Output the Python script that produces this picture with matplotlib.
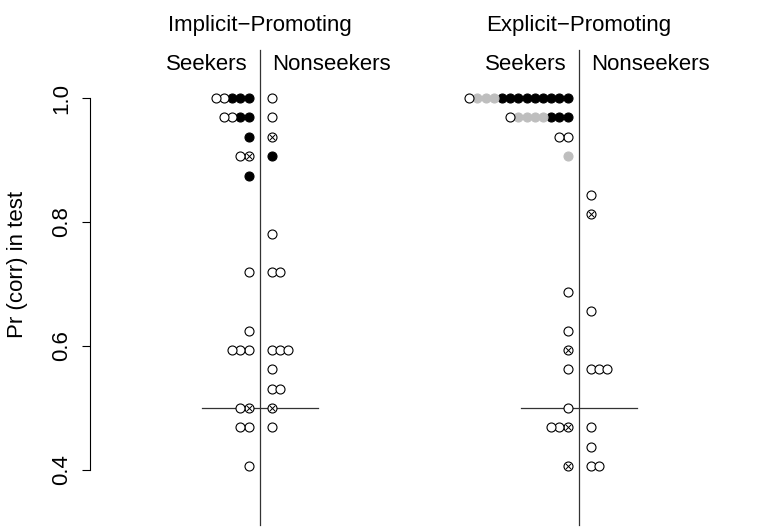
import matplotlib.pyplot as plt

plt.rcParams['font.family'] = ['Liberation Sans', 'DejaVu Sans']

n_items = 32

# test scores (out of 32) per row, and the participants on that row
# f = filled, g = grey, x = crossed, o = open
impl_seek_scores = [32, 31, 30, 29, 28, 23, 20, 19, 16, 15, 13]
impl_seek_marks = ["oofff", "ooff", "f", "ox", "f", "o", "o", "ooo", "ox", "oo", "o"]
impl_non_scores = [32, 31, 30, 29, 25, 23, 19, 18, 17, 16, 15]
impl_non_marks = ["o", "o", "x", "f", "o", "oo", "ooo", "o", "oo", "x", "o"]

expl_seek_scores = [32, 31, 30, 29, 22, 20, 19, 18, 16, 15, 13]
expl_seek_marks = ["oggg" + "f" * 9, "ogggg" + "fff", "oo", "g", "o", "o", "x", "o", "o", "oox", "x"]
expl_non_scores = [27, 26, 21, 18, 15, 14, 13]
expl_non_marks = ["o", "x", "o", "ooo", "o", "o", "oo"]

panels = [
    ("Implicit\u2212Promoting", 260, impl_seek_scores, impl_seek_marks, impl_non_scores, impl_non_marks),
    ("Explicit\u2212Promoting", 579, expl_seek_scores, expl_seek_marks, expl_non_scores, expl_non_marks),
]

rank = {"f": 0, "g": 1, "x": 2, "o": 3}
step = 8.2
gap = 11.5
grey = "#bebebe"

W, H = 759, 529
fig = plt.figure(figsize=(W / 100, H / 100), dpi=100)
ax = fig.add_axes([0, (H - 470) / H, 1, (470 - 98) / H])
ax.set_xlim(0, W)
ax.set_ylim(0.4, 1.0)
for s in ["top", "right", "bottom"]:
    ax.spines[s].set_visible(False)
ax.spines["left"].set_position(("data", 90))
ax.spines["left"].set_bounds(0.4, 1.0)
ax.spines["left"].set_linewidth(0.8)
ax.set_xticks([])
ax.set_yticks([0.4, 0.6, 0.8, 1.0])
ax.set_yticklabels(["0.4", "0.6", "0.8", "1.0"], rotation=90, va="center", fontsize=16)
ax.tick_params(axis="y", length=6, width=0.8, pad=7)
ax.set_ylabel("Pr (corr) in test", fontsize=16)
ax.yaxis.set_label_coords(18 / W, 0.5, transform=fig.transFigure)
ax.yaxis.label.set_verticalalignment("center")


def draw_side(cx, scores, marks, side):
    for score, row in zip(scores, marks):
        y = score / n_items
        for i, m in enumerate(sorted(row, key=lambda c: rank[c])):
            x = cx + side * (gap + i * step)
            if m == "f":
                fc, ec = "black", "black"
            elif m == "g":
                fc, ec = grey, grey
            else:
                fc, ec = "white", "black"
            ax.scatter([x], [y], s=42, facecolors=fc, edgecolors=ec,
                       linewidths=0.8, zorder=3 + i * 0.01, clip_on=False)
            if m == "x":
                ax.scatter([x], [y], s=14, marker="x", color="black",
                           linewidths=0.7, zorder=4, clip_on=False)


for title, cx, s_scores, s_marks, n_scores, n_marks in panels:
    ax.text(cx, 1 + 73 / 620, title, ha="center", va="center", fontsize=16)
    ax.text(cx - 12, 1 + 34 / 620, "Seekers", ha="right", va="center", fontsize=16)
    ax.text(cx + 12, 1 + 34 / 620, "Nonseekers", ha="left", va="center", fontsize=16)
    ax.plot([cx, cx], [1 + 48 / 620, 0.4 - 55 / 620], color="#333333", lw=0.9,
            clip_on=False, zorder=2)
    ax.plot([cx - 58, cx + 58], [0.5, 0.5], color="#333333", lw=0.9,
            clip_on=False, zorder=2)
    draw_side(cx, s_scores, s_marks, -1)
    draw_side(cx, n_scores, n_marks, 1)

fig.savefig("out.png", dpi=100)
